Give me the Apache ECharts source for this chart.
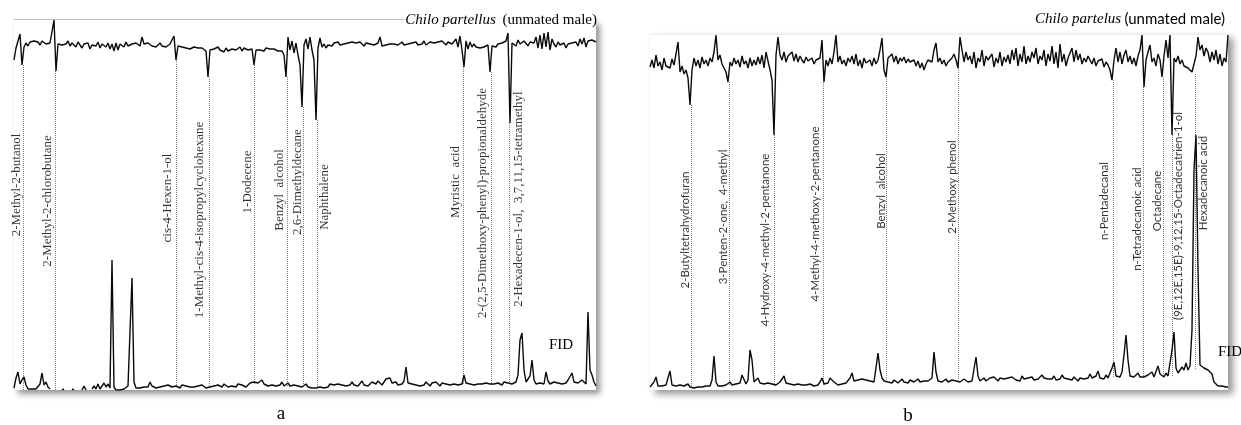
<!DOCTYPE html>
<html><head><meta charset="utf-8">
<script src="https://cdn.jsdelivr.net/npm/echarts/dist/echarts.min.js"></script>
<style>html,body{margin:0;padding:0;background:#fff}#c{width:1241px;height:425px}</style>
</head><body><div id="c"></div>
<script>
// ---------- DATA: panel a (Chilo partellus, unmated male) ----------
// EAD response (arbitrary units, negative = depolarisation), uniform scan index
const eadA = [
-15,-3,-5,11,-20,-2,2,-1,3,1,
4,2,3,0,4,2,1,-1,2,3,
25,-26,1,3,0,2,1,4,-1,2,
1,-2,3,0,-3,1,-1,2,-4,0,
2,-1,3,-3,1,0,-2,2,-4,1,
-6,2,-5,1,0,-2,3,-1,0,1,
-1,2,0,-1,8,1,-1,2,0,-1,
1,-2,0,2,-1,1,-2,0,1,0,
9,-15,-1,-3,-2,-4,-3,-2,-4,-3,
-2,-4,-3,-5,-3,-4,-6,-32,-5,-3,
-4,-3,-2,-5,-4,-7,-3,-6,-8,-4,
-3,-5,-4,-2,-6,-3,-4,-5,-3,-4,
-20,-5,-3,-5,-4,-6,-3,-5,-4,-5,
-4,-5,-6,-4,-6,-10,-32,8,-5,4,
-8,2,-10,-20,-62,0,6,-4,8,-5,
-15,-75,-3,7,-2,1,-3,0,2,-1,
2,1,3,0,2,1,-1,2,0,3,
1,2,0,3,1,-1,2,0,1,2,
0,1,2,8,-1,1,0,2,1,0,
1,2,0,1,3,0,2,1,-1,2,
1,3,0,2,1,4,0,2,3,1,
2,0,3,1,4,2,0,3,5,1,
2,6,-2,9,-5,-22,4,-4,3,-2,
1,-2,0,-3,-1,-2,-3,0,-27,-1,
0,-2,1,-1,2,0,4,12,-78,2,
3,-1,5,1,0,4,2,-1,3,1,
2,8,-3,10,-4,12,-2,13,-5,6,
1,-2,3,0,-1,2,-3,1,0,2,
0,3,-1,6,1,7,-2,4,2,5,3,3
];
// FID response (null = trace not recorded)
const fidA = [
2,12,18,6,10,13,5,1,0,1,
3,1,0,6,17,5,8,3,1,null,
null,null,null,null,0,1,null,null,null,1,
0,null,null,null,0,4,0,null,null,1,
4,1,6,1,3,7,3,6,2,130,
3,0,1,0,2,1,3,4,2,112,
8,2,3,2,4,3,5,3,8,4,
3,2,4,3,2,4,3,5,7,3,
2,4,3,2,5,3,4,2,3,4,
3,2,4,3,5,3,2,4,3,2,
4,3,5,4,3,6,4,3,5,4,
5,3,6,4,5,4,3,5,7,9,
8,10,7,9,10,6,5,4,6,5,
7,4,6,5,8,4,5,7,4,6,
5,6,4,5,3,4,6,3,5,2,
3,2,4,3,5,2,4,3,6,4,
5,3,6,4,5,7,4,6,5,8,
5,7,4,6,9,5,7,4,6,8,
10,6,9,7,5,8,11,9,12,7,
6,8,5,7,6,9,23,7,5,6,
8,5,7,4,6,5,8,6,4,7,
5,8,6,4,7,5,6,8,5,7,
6,8,5,7,6,15,7,5,6,8,
5,7,6,4,6,5,7,5,6,4,
6,5,7,6,5,8,6,7,9,6,
7,8,15,50,57,20,8,6,14,30,
10,6,5,7,8,6,18,9,6,7,
8,6,7,9,6,8,7,10,9,17,
8,9,7,8,10,12,6,78,20,15,8,4
];
const compoundsA = [
"2-Methyl-2-butanol","2-Methyl-2-chlorobutane","cis-4-Hexen-1-ol",
"1-Methyl-cis-4-isopropylcyclohexane","1-Dodecene","Benzyl  alcohol",
"2,6-Dimethyldecane","Naphthalene","Myristic  acid",
"2-(2,5-Dimethoxy-phenyl)-propionaldehyde","2-Hexadecen-1-ol,  3,7,11,15-tetramethyl"
];
const retentionA = [4.5,20.5,81,97.5,120,136.5,144.5,151.5,224.5,238.5,247.5];

// ---------- DATA: panel b (Chilo partelus, unmated male) ----------
const eadB = [
-1,6,-2,11,0,4,-4,8,0,2,
-2,7,1,12,24,-6,0,-8,-4,-12,
-39,-4,8,0,6,-2,9,2,6,0,
8,4,14,31,6,11,2,-2,-6,-16,
4,0,8,2,6,-1,10,2,5,-2,
8,0,6,1,9,2,11,-2,14,16,
-4,-14,-69,11,29,11,6,14,4,10,
8,14,5,12,4,10,6,3,9,5,
4,8,2,6,4,8,26,-16,6,0,
8,2,14,31,4,10,2,6,0,8,
4,10,2,12,0,6,-2,8,3,5,
6,0,8,2,6,16,28,-4,-11,8,
6,12,4,10,2,8,5,9,3,7,
4,2,6,0,5,-2,3,-4,2,6,
6,4,16,23,4,8,2,6,0,4,
4,8,12,6,-2,29,16,4,14,6,
10,2,14,-2,8,4,16,0,10,6,
5,12,-1,8,3,14,0,9,4,11,
2,16,6,18,0,12,4,20,2,10,
4,14,8,18,2,10,6,16,0,12,
5,20,2,14,-2,22,4,12,0,8,
10,18,4,16,6,12,2,8,4,10,
6,2,8,0,5,3,7,-1,4,1,
-4,-14,6,18,4,14,2,11,16,4,
10,2,8,0,10,16,31,-21,6,14,
21,4,8,0,12,6,-11,10,26,8,
31,-69,8,4,10,2,6,0,2,-2,
-2,-6,-8,10,29,16,21,10,18,14,
4,14,6,16,2,12,0,8,4,31
];
const fidB = [
3,4,8,13,4,3,4,3,5,12,
19,5,3,4,3,5,3,4,3,6,
3,4,2,4,3,5,3,2,4,3,
4,10,34,8,4,5,4,6,5,4,
8,5,4,6,5,7,15,17,6,10,
40,30,8,9,12,7,5,6,4,7,
5,6,4,5,6,8,10,14,7,5,
6,4,5,3,6,4,5,3,5,4,
6,5,4,6,5,8,12,6,5,7,
12,14,8,6,5,7,6,8,7,9,
12,17,9,7,10,8,11,9,10,12,
9,11,8,10,37,20,12,9,10,8,
9,7,10,8,7,9,11,8,9,7,
10,12,8,9,11,8,10,9,7,9,
10,12,38,18,9,10,8,9,11,8,
9,10,8,9,10,8,9,11,9,8,
10,9,11,33,14,9,11,12,9,10,
12,10,13,11,9,12,10,11,9,12,
10,13,11,10,12,9,14,11,10,12,
11,13,10,12,11,13,15,12,10,11,
13,11,14,10,12,11,15,12,10,11,
12,10,13,11,9,12,14,11,13,12,
16,12,11,14,19,12,13,11,15,12,
14,22,28,14,12,13,18,35,55,30,
14,12,13,12,17,13,11,13,12,15,
14,18,13,15,24,16,14,13,17,14,
16,40,58,22,17,19,23,20,27,20,
24,60,220,255,120,25,24,22,23,20,
18,16,8,6,4,3,4,2,3,3
];
const compoundsB = [
"2-Butyltetrahydrofuran","3-Penten-2-one,  4-methyl","4-Hydroxy-4-methyl-2-pentanone",
"4-Methyl-4-methoxy-2-pentanone","Benzyl  alcohol","2-Methoxy phenol",
"n-Pentadecanal","n-Tetradecanoic acid","Octadecane",
"(9E,12E,15E)-9,12,15-Octadecatrien-1-ol","Hexadecanoic acid"
];
const retentionB = [20.5,39.5,62,86.5,118,154,231.5,246.5,256.5,261,272.5];

// ---------- LAYOUT (pixels) ----------
const GA = {left:14, top:20, width:582, height:370, fid:[0,370], ead:[-345,25]};
const GB = {left:650, top:34, width:578, height:356, fid:[0,356], ead:[-324,32]};
// label placement: [horizontal offset from marker line (px), label centre y (px)]
const labelPlaceA = [[-6,185],[-7,201],[-8,198],[-9,220],[-6,182],[-7,190],[-5,182],[8,197],[-7,182],[-8,203],[10,199]];
const labelPlaceB = [[-6,230],[-6,217],[-9,240],[-8,214],[-5,191],[-6,187],[-9,201],[-6,219],[-6,201],[6,216],[8,183]];

function markerLines(ret, ead, fid, g){
  const shift = g.fid[0] - g.ead[0];
  return ret.map(m=>{
    let top = Infinity;
    for(let i=Math.floor(m)-1;i<=Math.ceil(m)+1;i++) if(ead[i]!=null) top=Math.min(top,ead[i]);
    let bot = Infinity;
    for(let i=Math.floor(m)-3;i<=Math.ceil(m)+3;i++) if(fid[i]!=null) bot=Math.min(bot,fid[i]);
    return [{coord:[m, top+shift]},{coord:[m, bot]}];
  });
}
function labelData(names, ret, place, n, g){
  const pxPerUnit = g.width/(n-1);
  const fidPerPx = (g.fid[1]-g.fid[0])/g.height;
  return names.map((nm,k)=>({
    name: nm,
    value: [ret[k] + place[k][0]/pxPerUnit, g.fid[0] + (g.top+g.height-place[k][1])*fidPerPx]
  }));
}
const idx = arr => arr.map((v,i)=>[i, v]);

const traceStyle = {color:'#0a0a0a', width:1.4};
const dotted = {type:'dotted', color:'#808080', width:1};

const option = {
  animation:false,
  backgroundColor:'#fff',
  grid:[
    {left:GA.left, top:GA.top, width:GA.width, height:GA.height, show:true, backgroundColor:'#fff', borderWidth:0,
     shadowBlur:6, shadowColor:'rgba(0,0,0,0.42)', shadowOffsetX:4, shadowOffsetY:4},
    {left:GB.left, top:GB.top, width:GB.width, height:GB.height, show:true, backgroundColor:'#fff', borderWidth:0,
     shadowBlur:7, shadowColor:'rgba(0,0,0,0.42)', shadowOffsetX:5, shadowOffsetY:4}
  ],
  xAxis:[
    {gridIndex:0, type:'value', min:0, max:eadA.length-1, show:false},
    {gridIndex:1, type:'value', min:0, max:eadB.length-1, show:false}
  ],
  yAxis:[
    {gridIndex:0, type:'value', min:GA.fid[0], max:GA.fid[1], show:false},
    {gridIndex:0, type:'value', min:GA.ead[0], max:GA.ead[1], show:false},
    {gridIndex:1, type:'value', min:GB.fid[0], max:GB.fid[1], show:false},
    {gridIndex:1, type:'value', min:GB.ead[0], max:GB.ead[1], show:false}
  ],
  series:[
    {type:'line', name:'EAD a', xAxisIndex:0, yAxisIndex:1, data:idx(eadA), showSymbol:false, symbol:'none', lineStyle:traceStyle, z:5, silent:true},
    {type:'line', name:'FID a', xAxisIndex:0, yAxisIndex:0, data:idx(fidA), showSymbol:false, symbol:'none', connectNulls:false, lineStyle:traceStyle, z:5, silent:true,
     markLine:{silent:true, symbol:['none','none'], label:{show:false}, lineStyle:dotted, data:markerLines(retentionA, eadA, fidA, GA)}},
    {type:'scatter', name:'labels a', xAxisIndex:0, yAxisIndex:0, symbolSize:1, itemStyle:{color:'rgba(0,0,0,0)'}, silent:true, z:4,
     data:labelData(compoundsA, retentionA, labelPlaceA, eadA.length, GA),
     label:{show:true, position:'inside', rotate:90, formatter:'{b}', color:'#000', fontFamily:'Liberation Serif', fontSize:13, align:'center', verticalAlign:'middle'}},
    {type:'line', name:'EAD b', xAxisIndex:1, yAxisIndex:3, data:idx(eadB), showSymbol:false, symbol:'none', lineStyle:traceStyle, z:5, silent:true},
    {type:'line', name:'FID b', xAxisIndex:1, yAxisIndex:2, data:idx(fidB), showSymbol:false, symbol:'none', lineStyle:traceStyle, z:5, silent:true,
     markLine:{silent:true, symbol:['none','none'], label:{show:false}, lineStyle:dotted, data:markerLines(retentionB, eadB, fidB, GB)}},
    {type:'scatter', name:'labels b', xAxisIndex:1, yAxisIndex:2, symbolSize:1, itemStyle:{color:'rgba(0,0,0,0)'}, silent:true, z:4,
     data:labelData(compoundsB, retentionB, labelPlaceB, eadB.length, GB),
     label:{show:true, position:'inside', rotate:90, formatter:'{b}', color:'#000', fontFamily:'Lato', fontSize:11.5, align:'center', verticalAlign:'middle'}}
  ],
  graphic:[
    {type:'line', z:100, shape:{x1:14, y1:19.5, x2:404, y2:19.5}, style:{stroke:'#bdbdbd', lineWidth:1}},
    {type:'line', z:100, shape:{x1:650, y1:34.5, x2:1228, y2:34.5}, style:{stroke:'#ececec', lineWidth:1}},
    {type:'text', z:100, x:597, y:20, style:{text:'{i|Chilo partellus}  {n|(unmated male)}', align:'right', verticalAlign:'middle',
      rich:{i:{fontFamily:'Liberation Serif', fontStyle:'italic', fontSize:15, fill:'#000'}, n:{fontFamily:'Liberation Serif', fontSize:15, fill:'#000'}}}},
    {type:'text', z:100, x:1225, y:19, style:{text:'{i|Chilo partelus} {n|(unmated male)}', align:'right', verticalAlign:'middle',
      rich:{i:{fontFamily:'Liberation Serif', fontStyle:'italic', fontSize:15, fill:'#000'}, n:{fontFamily:'Lato', fontSize:15, fill:'#000'}}}},
    {type:'text', z:100, x:549, y:345, style:{text:'FID', fontFamily:'Liberation Serif', fontSize:15, fill:'#000', align:'left', verticalAlign:'middle'}},
    {type:'text', z:100, x:1218, y:352, style:{text:'FID', fontFamily:'Liberation Serif', fontSize:15, fill:'#000', align:'left', verticalAlign:'middle'}},
    {type:'text', z:100, x:281, y:414, style:{text:'a', fontFamily:'Liberation Serif', fontSize:19, fill:'#000', align:'center', verticalAlign:'middle'}},
    {type:'text', z:100, x:908, y:416, style:{text:'b', fontFamily:'Liberation Serif', fontSize:19, fill:'#000', align:'center', verticalAlign:'middle'}}
  ]
};
const chart = echarts.init(document.getElementById('c'));
chart.setOption(option);
</script>
</body></html>
